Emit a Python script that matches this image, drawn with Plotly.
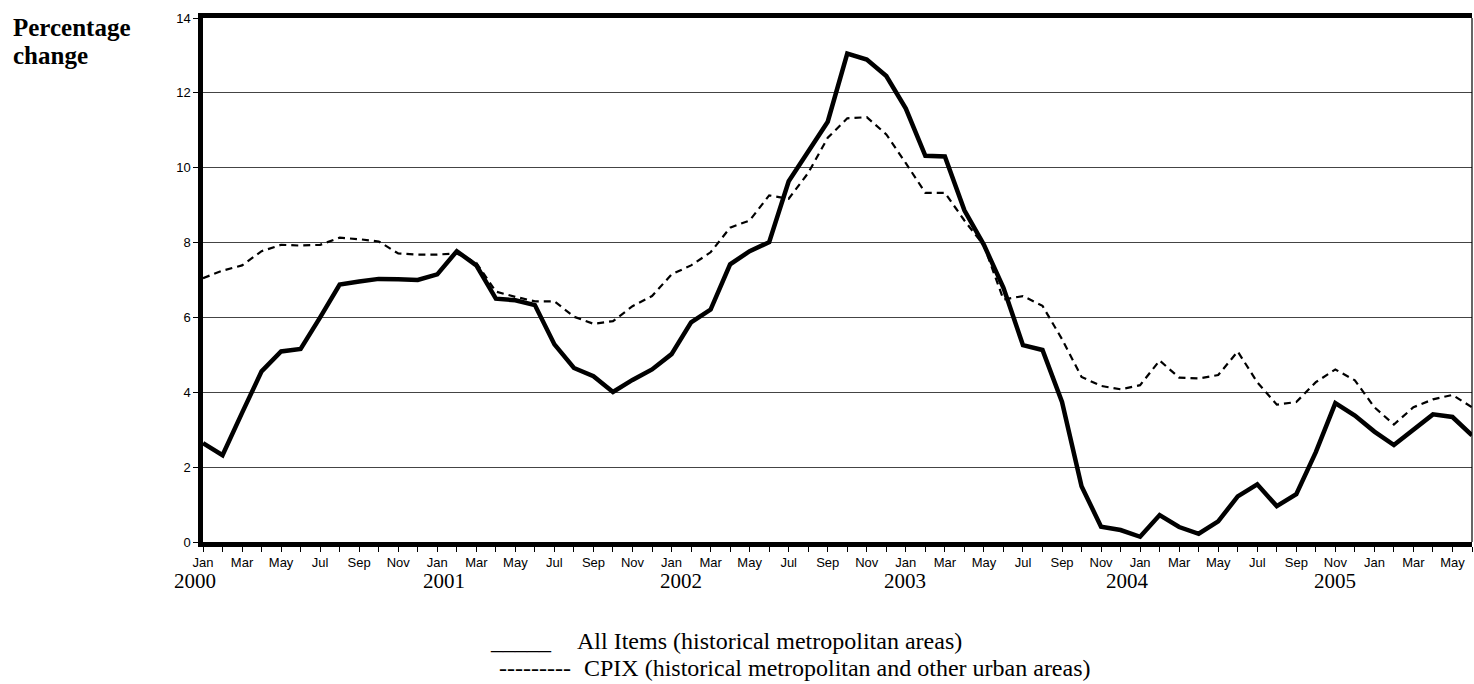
import plotly.graph_objects as go

month_names = ["Jan", "Feb", "Mar", "Apr", "May", "Jun",
               "Jul", "Aug", "Sep", "Oct", "Nov", "Dec"]
years = ["2000", "2001", "2002", "2003", "2004", "2005"]

# Monthly percentage change, Jan 2000 - Jun 2005
all_items = [
    2.64, 2.32, 3.45, 4.56, 5.09, 5.16, 6.00, 6.88, 6.96, 7.03, 7.02, 7.00,
    7.15, 7.77, 7.39, 6.50, 6.46, 6.33, 5.28, 4.65, 4.43, 4.01, 4.33, 4.61,
    5.02, 5.87, 6.21, 7.42, 7.77, 8.01, 9.64, 10.41, 11.23, 13.05, 12.89, 12.45,
    11.58, 10.32, 10.30, 8.86, 7.94, 6.79, 5.26, 5.13, 3.74, 1.49, 0.41, 0.32,
    0.14, 0.72, 0.40, 0.22, 0.55, 1.22, 1.54, 0.96, 1.28, 2.40, 3.71, 3.38,
    2.95, 2.59, 2.99, 3.41, 3.34, 2.85,
]
cpix = [
    7.05, 7.25, 7.39, 7.77, 7.94, 7.92, 7.94, 8.13, 8.09, 8.03, 7.71, 7.68,
    7.68, 7.71, 7.46, 6.69, 6.55, 6.43, 6.43, 6.02, 5.83, 5.90, 6.30, 6.57,
    7.15, 7.39, 7.74, 8.40, 8.59, 9.26, 9.17, 9.86, 10.80, 11.32, 11.35, 10.89,
    10.12, 9.33, 9.33, 8.59, 7.92, 6.48, 6.57, 6.31, 5.42, 4.41, 4.17, 4.08,
    4.19, 4.85, 4.39, 4.37, 4.46, 5.09, 4.27, 3.67, 3.74, 4.27, 4.61, 4.32,
    3.60, 3.14, 3.60, 3.81, 3.93, 3.60,
]

n = len(all_items)
x = list(range(n))
tick_text = [month_names[i % 12] if i % 2 == 0 else "" for i in x]

fig = go.Figure()
fig.add_trace(go.Scatter(x=x, y=cpix, mode="lines",
                         line=dict(color="black", width=2.2, dash="7px,5px"),
                         name="CPIX"))
fig.add_trace(go.Scatter(x=x, y=all_items, mode="lines",
                         line=dict(color="black", width=4.5),
                         name="All Items"))

W, H = 1474, 684
L, R, T, B = 203, 2, 18, 142
pw, ph = W - L - R, H - T - B

def py(pix):
    return (H - B - pix) / ph

def px(pix):
    return (pix - L) / pw

annotations = []
# year labels, pixel centres as placed in the original
year_px = [195, 444, 681, 905, 1127, 1335]
for yr, xp in zip(years, year_px):
    annotations.append(dict(x=px(xp), y=py(581), xref="paper", yref="paper",
                            text=yr, showarrow=False, xanchor="center", yanchor="middle",
                            font=dict(family="Liberation Serif", size=21, color="black")))

annotations.append(dict(x=px(11), y=py(28), xref="paper", yref="paper", text="<b>Percentage</b>",
                        showarrow=False, xanchor="left", yanchor="middle",
                        font=dict(family="Liberation Serif", size=25, color="black")))
annotations.append(dict(x=px(11), y=py(56), xref="paper", yref="paper", text="<b>change</b>",
                        showarrow=False, xanchor="left", yanchor="middle",
                        font=dict(family="Liberation Serif", size=25, color="black")))

leg_font = dict(family="Liberation Serif", size=24, color="black")
annotations += [
    dict(x=px(554), y=py(641), xref="paper", yref="paper", text="_____",
         showarrow=False, xanchor="right", yanchor="middle", font=leg_font),
    dict(x=px(575), y=py(641), xref="paper", yref="paper",
         text="All Items (historical metropolitan areas)",
         showarrow=False, xanchor="left", yanchor="middle", font=leg_font),
    dict(x=px(573), y=py(668), xref="paper", yref="paper", text="---------",
         showarrow=False, xanchor="right", yanchor="middle", font=leg_font),
    dict(x=px(582), y=py(668), xref="paper", yref="paper",
         text="CPIX (historical metropolitan and other urban areas)",
         showarrow=False, xanchor="left", yanchor="middle", font=leg_font),
]

fig.update_layout(
    width=W, height=H,
    margin=dict(l=L, r=R, t=T, b=B, pad=0),
    paper_bgcolor="white", plot_bgcolor="white",
    showlegend=False,
    annotations=annotations,
    shapes=[dict(type="line", xref="paper", yref="paper", x0=1, x1=1, y0=0, y1=1,
                 line=dict(color="black", width=1.2))],
    xaxis=dict(range=[0, n - 1], tickmode="array", tickvals=x, ticktext=tick_text,
               showline=True, linewidth=4.5, linecolor="black", mirror=True,
               ticks="outside", ticklen=5, tickwidth=1, tickcolor="black",
               showgrid=False, zeroline=False,
               tickfont=dict(family="Liberation Sans", size=13, color="black")),
    yaxis=dict(range=[0, 14], tickmode="linear", tick0=0, dtick=2,
               showline=True, linewidth=4.5, linecolor="black", mirror=False,
               ticks="outside", ticklen=5, tickwidth=1, tickcolor="black",
               showgrid=True, gridcolor="#444444", gridwidth=1, zeroline=False,
               tickfont=dict(family="Liberation Sans", size=13, color="black")),
)

fig.write_html("out.html", config={"displayModeBar": False},
               post_script="document.body.style.margin='0';document.body.style.overflow='hidden';")
